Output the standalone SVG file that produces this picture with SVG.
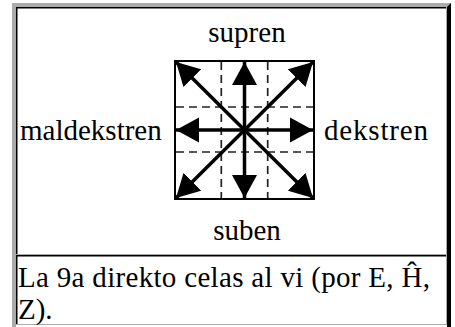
<svg xmlns="http://www.w3.org/2000/svg" width="455" height="327" viewBox="0 0 455 327">
<defs>
<style>
.dash{stroke:#222;stroke-width:1.7;stroke-dasharray:8 5;fill:none}
.arr{stroke:#000;stroke-width:3.5;fill:none;marker-end:url(#ah)}
</style>
<marker id="ah" markerUnits="userSpaceOnUse" markerWidth="25" markerHeight="26" refX="23" refY="12.5" orient="auto" viewBox="0 0 25 25">
<path d="M0,0 L23,12.5 L0,25 z" fill="#000"/>
</marker>
</defs>
<rect width="455" height="327" fill="#fff"/>
<g id="frame">
<rect x="12" y="3" width="439" height="4" fill="#aaa"/>
<rect x="12" y="3" width="4" height="324" fill="#aaa"/>
<polygon points="447,7 451,3 451,327 447,327" fill="#000"/>
<rect x="16" y="7" width="431" height="1.5" fill="#000"/>
<rect x="16" y="7" width="1.5" height="248" fill="#000"/>
<rect x="446" y="7" width="1" height="248" fill="#aaa"/>
<rect x="16" y="254" width="431" height="1" fill="#aaa"/>
<rect x="16" y="255" width="431" height="1.5" fill="#000"/>
<rect x="16" y="255" width="1.5" height="70" fill="#000"/>
<rect x="446" y="255" width="1" height="70" fill="#aaa"/>
<rect x="16" y="324" width="431" height="1" fill="#aaa"/>
</g>
<g font-family="Liberation Serif, serif" font-size="29" fill="#000">
<g id="label-supren"><text x="247" y="42" text-anchor="middle">supren</text></g>
<g id="label-maldekstren"><text x="20" y="140">maldekstren</text></g>
<g id="label-dekstren"><text x="324" y="140" textLength="104" lengthAdjust="spacing">dekstren</text></g>
<g id="label-suben"><text x="247" y="240" text-anchor="middle">suben</text></g>
<g id="caption"><text x="18" y="287" textLength="412" lengthAdjust="spacing">La 9a direkto celas al vi (por E, Ĥ,</text><text x="18" y="319">Z).</text></g>
</g>
<g id="grid">
<rect x="175" y="61" width="139" height="138" fill="#fff" stroke="#000" stroke-width="2"/>
<line class="dash" x1="221.3" y1="62" x2="221.3" y2="198"/>
<line class="dash" x1="267.7" y1="62" x2="267.7" y2="198"/>
<line class="dash" x1="176" y1="107" x2="313" y2="107"/>
<line class="dash" x1="176" y1="152" x2="313" y2="152"/>
</g>
<g id="connectors">
<line class="arr" x1="244.5" y1="130" x2="244.5" y2="62"/>
<line class="arr" x1="244.5" y1="130" x2="244.5" y2="198"/>
<line class="arr" x1="244.5" y1="130" x2="176" y2="130"/>
<line class="arr" x1="244.5" y1="130" x2="313" y2="130"/>
<line class="arr" x1="244.5" y1="130" x2="176" y2="62"/>
<line class="arr" x1="244.5" y1="130" x2="313" y2="62"/>
<line class="arr" x1="244.5" y1="130" x2="176" y2="198"/>
<line class="arr" x1="244.5" y1="130" x2="313" y2="198"/>
</g>
</svg>
